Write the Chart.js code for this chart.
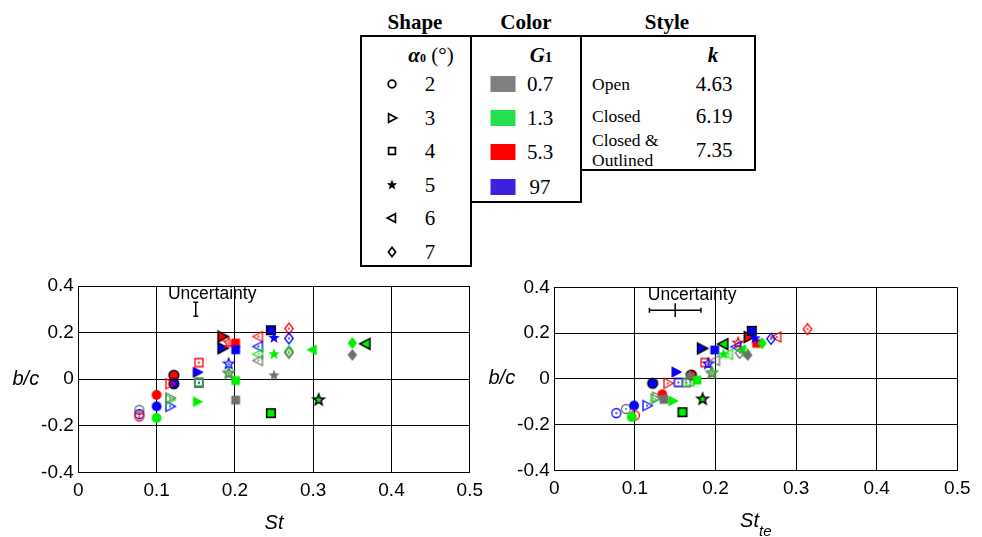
<!DOCTYPE html>
<html>
<head>
<meta charset="utf-8">
<script src="https://cdn.jsdelivr.net/npm/chart.js@4.4.0/dist/chart.umd.min.js"></script>
<style>
  body { margin: 0; background: #fff; width: 982px; height: 537px; position: relative; overflow: hidden; font-family: "Liberation Serif", serif; }
  .box { position: absolute; border: 2px solid #000; box-sizing: border-box; }
  .t { position: absolute; transform: translate(-50%, -50%); white-space: nowrap; line-height: 1; }
  .l { position: absolute; transform: translate(0, -50%); white-space: nowrap; line-height: 1.15; font-size: 17.5px; }
  .hd { font-weight: bold; font-size: 21px; }
  .num { font-size: 21px; }
  canvas.plot { position: absolute; top: 270px; }
</style>
</head>
<body>
<div id="legend"></div>
<canvas id="left" class="plot" width="490" height="267" style="left:0;width:490px;height:267px"></canvas>
<canvas id="right" class="plot" width="506" height="267" style="left:476px;width:506px;height:267px"></canvas>
<script>
// legend levels
const alphaLevels = [2, 3, 4, 5, 6, 7];
const g1Levels = [0.7, 1.3, 5.3, 97];
const kLevels = [4.63, 6.19, 7.35];
const kNames = ['Open', 'Closed', 'Closed &amp;<br>Outlined'];

// one entry per measured case: shape (alpha0), colour (G1), style (k)
const alpha0 = [2, 2, 2, 2, 2, 2, 2, 2,
  3, 3, 3, 3, 3, 3, 3, 3, 3,
  4, 4, 4, 4, 4, 4, 4, 4, 4, 4,
  5, 5, 5, 5, 5, 5, 5, 5,
  6, 6, 6, 6, 6, 6,
  7, 7, 7, 7, 7, 7];
const g1 = [0.7, 97, 5.3, 5.3, 97, 1.3, 5.3, 97,
  97, 1.3, 0.7, 5.3, 1.3, 5.3, 97, 97, 5.3,
  5.3, 97, 1.3, 0.7, 5.3, 97, 1.3, 0.7, 97, 1.3,
  5.3, 97, 1.3, 0.7, 97, 1.3, 0.7, 1.3,
  5.3, 97, 1.3, 0.7, 1.3, 1.3,
  5.3, 97, 1.3, 0.7, 1.3, 0.7];
const k = [4.63, 4.63, 4.63, 6.19, 6.19, 6.19, 7.35, 7.35,
  4.63, 4.63, 4.63, 4.63, 6.19, 6.19, 6.19, 7.35, 7.35,
  4.63, 4.63, 4.63, 4.63, 6.19, 6.19, 6.19, 6.19, 7.35, 7.35,
  4.63, 4.63, 4.63, 4.63, 6.19, 6.19, 6.19, 7.35,
  4.63, 4.63, 4.63, 4.63, 6.19, 7.35,
  4.63, 4.63, 4.63, 4.63, 6.19, 6.19];
const st = [0.078, 0.078, 0.078, 0.100, 0.100, 0.100, 0.122, 0.122,
  0.117, 0.117, 0.117, 0.117, 0.152, 0.152, 0.152, 0.184, 0.184,
  0.154, 0.154, 0.154, 0.154, 0.201, 0.201, 0.201, 0.201, 0.246, 0.246,
  0.192, 0.192, 0.192, 0.192, 0.250, 0.250, 0.250, 0.307,
  0.230, 0.230, 0.230, 0.230, 0.299, 0.367,
  0.269, 0.269, 0.269, 0.269, 0.350, 0.350];
const stTe = [0.089, 0.077, 0.100, 0.134, 0.099, 0.096, 0.170, 0.122,
  0.115, 0.125, 0.127, 0.141, 0.147, 0.151, 0.151, 0.183, 0.241,
  0.187, 0.154, 0.168, 0.164, 0.251, 0.199, 0.177, 0.136, 0.245, 0.159,
  0.228, 0.191, 0.196, 0.195, 0.249, 0.210, 0.168, 0.184,
  0.276, 0.226, 0.216, 0.200, 0.232, 0.210,
  0.314, 0.269, 0.236, 0.230, 0.258, 0.240];
const bc = [-0.132, -0.150, -0.160, -0.068, -0.117, -0.167, 0.017, -0.020,
  -0.117, -0.088, -0.080, -0.020, -0.097, 0.029, 0.030, 0.133, 0.183,
  0.071, -0.016, -0.012, -0.017, 0.155, 0.126, -0.006, -0.090, 0.210, -0.146,
  0.157, 0.066, 0.028, 0.024, 0.177, 0.107, 0.016, -0.089,
  0.183, 0.140, 0.107, 0.080, 0.126, 0.152,
  0.217, 0.175, 0.120, 0.113, 0.155, 0.104];

// uncertainty bar
const uncSt = 0.15, uncBc = 0.30, uncErrBc = 0.03, uncErrStTe = 0.032;
const uncLabelSt = 0.171, uncLabelBc = 0.366;

const shapes = { 2: 'circle', 3: 'triR', 4: 'square', 5: 'star', 6: 'triL', 7: 'diamond' };
const plotColors = { 0.7: '#707070', 1.3: '#00ee00', 5.3: '#ff0000', 97: '#0000ff' };
const swatchColors = { 0.7: '#7f7f7f', 1.3: '#22e14d', 5.3: '#fe0000', 97: '#3b21e0' };

function markerPath(g, shape, s) {
  g.beginPath();
  if (shape === 'circle') {
    g.arc(0, 0, 4.5 * s, 0, Math.PI * 2);
  } else if (shape === 'triR' || shape === 'triL') {
    const d = shape === 'triR' ? 1 : -1;
    g.moveTo(-4 * s * d, -5 * s); g.lineTo(5.5 * s * d, 0); g.lineTo(-4 * s * d, 5 * s); g.closePath();
  } else if (shape === 'square') {
    g.rect(-4 * s, -4 * s, 8 * s, 8 * s);
  } else if (shape === 'diamond') {
    g.moveTo(0, -5.5 * s); g.lineTo(4.3 * s, 0); g.lineTo(0, 5.5 * s); g.lineTo(-4.3 * s, 0); g.closePath();
  } else if (shape === 'star') {
    for (let i = 0; i < 10; i++) {
      const r = (i % 2 ? 2.3 : 5.5) * s;
      const a = -Math.PI / 2 + i * Math.PI / 5;
      i ? g.lineTo(r * Math.cos(a), r * Math.sin(a)) : g.moveTo(r * Math.cos(a), r * Math.sin(a));
    }
    g.closePath();
  }
}

function makeMarker(shape, fill, stroke, lw, dot, s) {
  const c = document.createElement('canvas');
  c.width = c.height = 18;
  const g = c.getContext('2d');
  g.translate(9, 9);
  g.lineJoin = 'miter';
  markerPath(g, shape, s || 1);
  if (fill) { g.fillStyle = fill; g.fill(); }
  if (stroke) { g.strokeStyle = stroke; g.lineWidth = lw; g.stroke(); }
  if (dot) { g.beginPath(); g.arc(0, 0, 0.9, 0, Math.PI * 2); g.fillStyle = stroke; g.fill(); }
  return c;
}

const markers = alpha0.map((a, i) => {
  const col = plotColors[g1[i]];
  if (k[i] === 4.63) return makeMarker(shapes[a], null, col, 1.3, true, 1.0);
  if (k[i] === 6.19) return makeMarker(shapes[a], col, null, 0, false, 1.1);
  return makeMarker(shapes[a], col, '#000', 1.5, false, 1.08);
});

// ---- legend table ----
const legend = document.getElementById('legend');
function put(html, x, y, cls) {
  const d = document.createElement('div');
  d.className = cls;
  d.style.left = x + 'px';
  d.style.top = y + 'px';
  d.innerHTML = html;
  legend.appendChild(d);
  return d;
}
function box(x, y, w, h) {
  const d = document.createElement('div');
  d.className = 'box';
  Object.assign(d.style, { left: x + 'px', top: y + 'px', width: w + 'px', height: h + 'px' });
  legend.appendChild(d);
}
box(360, 35, 112, 232);
box(470, 35, 112, 168);
box(580, 35, 176, 136);
put('Shape', 415, 22, 't hd');
put('Color', 526, 22, 't hd');
put('Style', 667, 22, 't hd');
put('<b><i>α</i><span style="font-size:12px">0</span></b> (°)', 431, 55, 't num');
put('<b><i>G</i><span style="font-size:15px">1</span></b>', 541, 55, 't num');
put('<b><i>k</i></b>', 713, 55, 't num');

alphaLevels.forEach((a, i) => {
  const y = 84 + i * 33.6;
  const isStar = shapes[a] === 'star';
  const m = makeMarker(shapes[a], isStar ? '#000' : null, isStar ? null : '#000', 1.7, false, isStar ? 1.0 : 0.85);
  m.className = 't';
  m.style.left = '392px';
  m.style.top = y + 'px';
  legend.appendChild(m);
  put(String(a), 430, y, 't num');
});
g1Levels.forEach((v, i) => {
  const y = 83.5 + i * 34.4;
  const sw = put('', 502.5, y, 't');
  Object.assign(sw.style, { width: '25px', height: '16px', background: swatchColors[v] });
  put(String(v), 540, y, 't num');
});
const styleRows = [83.5, 115.5, 150];
kLevels.forEach((v, i) => {
  put(kNames[i], 592, styleRows[i], 'l');
  put(v.toFixed(2), 714, styleRows[i], 't num');
});

// ---- plots ----
const textPlugin = {
  id: 'texts',
  afterDraw(chart, args, opts) {
    const { ctx, chartArea: a, scales: { x, y } } = chart;
    ctx.save();
    ctx.fillStyle = '#000';
    ctx.font = 'italic 20px "Liberation Sans"';
    ctx.textAlign = 'center';
    ctx.textBaseline = 'middle';
    ctx.fillText('b/c', a.left - 52.5, (a.top + a.bottom) / 2);
    ctx.textAlign = 'left';
    ctx.textBaseline = 'alphabetic';
    const w1 = ctx.measureText(opts.main).width;
    ctx.font = 'italic 15px "Liberation Sans"';
    const w2 = opts.sub ? ctx.measureText(opts.sub).width : 0;
    const x0 = (a.left + a.right) / 2 - (w1 + w2) / 2;
    ctx.font = 'italic 20px "Liberation Sans"';
    ctx.fillText(opts.main, x0, a.bottom + 56.5);
    if (opts.sub) {
      ctx.font = 'italic 15px "Liberation Sans"';
      ctx.fillText(opts.sub, x0 + w1, a.bottom + 65.5);
    }
    ctx.font = '17.5px "Liberation Sans"';
    ctx.textAlign = 'center';
    ctx.textBaseline = 'middle';
    ctx.fillText('Uncertainty', x.getPixelForValue(uncLabelSt), y.getPixelForValue(uncLabelBc));
    ctx.restore();
  }
};

function makePlot(id, xs, errX, box) {
  const points = xs.map((v, i) => ({ x: v, y: bc[i] }));
  const datasets = [{
    data: points,
    pointStyle: c => markers[c.dataIndex],
    pointRadius: 5,
    showLine: false
  }, {
    data: [{ x: uncSt, y: uncBc - uncErrBc }, { x: uncSt, y: uncBc + uncErrBc }],
    showLine: true,
    borderColor: '#000',
    borderWidth: 1.5,
    pointStyle: 'line',
    pointRadius: errX ? 0 : 2.5,
    pointBorderColor: '#000',
    pointBorderWidth: 1.5
  }];
  if (errX) {
    datasets.push({
      data: [{ x: uncSt - errX, y: uncBc }, { x: uncSt + errX, y: uncBc }],
      showLine: true,
      borderColor: '#000',
      borderWidth: 1.5,
      pointStyle: 'line',
      pointRotation: 90,
      pointRadius: 2.5,
      pointBorderColor: '#000',
      pointBorderWidth: 1.5
    });
  }
  const tickFont = { family: '"Liberation Sans"', size: 19 };
  return new Chart(document.getElementById(id), {
    type: 'scatter',
    data: { datasets },
    options: {
      responsive: false,
      animation: false,
      events: [],
      layout: { padding: { top: box.top, right: box.right, left: 0, bottom: 0 } },
      plugins: { legend: { display: false }, tooltip: { enabled: false }, texts: box.texts },
      scales: {
        x: {
          type: 'linear', min: 0, max: 0.5,
          ticks: { stepSize: 0.1, color: '#000', font: tickFont, padding: 7 },
          grid: { color: '#000', lineWidth: 1, drawTicks: false },
          border: { color: '#000', width: 1 },
          afterFit: s => { s.height = box.xh; }
        },
        y: {
          min: -0.4, max: 0.4,
          ticks: { stepSize: 0.2, color: '#000', font: tickFont, padding: 4.5 },
          grid: { color: '#000', lineWidth: 1, drawTicks: false },
          border: { color: '#000', width: 1 },
          afterFit: s => { s.width = 78.3; }
        }
      }
    },
    plugins: [textPlugin]
  });
}

makePlot('left', st, 0, { top: 16, right: 19.3, xh: 64.7, texts: { main: 'St', sub: '' } });
makePlot('right', stTe, uncErrStTe, { top: 17.3, right: 24.7, xh: 66.7, texts: { main: 'St', sub: 'te' } });
</script>
</body>
</html>
